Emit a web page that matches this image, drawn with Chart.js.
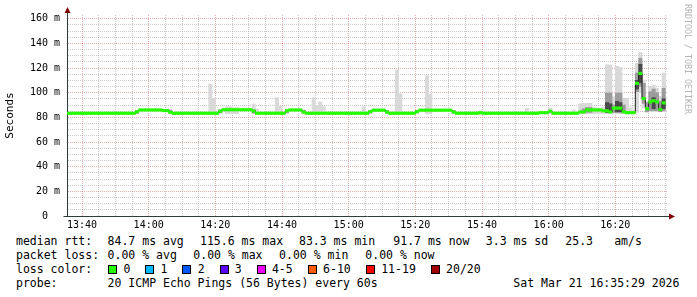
<!DOCTYPE html>
<html>
<head>
<meta charset="utf-8">
<script src="https://cdn.jsdelivr.net/npm/chart.js@4.4.1/dist/chart.umd.min.js"></script>
<style>
  html, body { margin: 0; padding: 0; background: #fff; }
  #wrap { position: relative; width: 697px; height: 297px; overflow: hidden; background: #fff;
          font-family: "DejaVu Sans Mono", monospace; color: #000; }
  #plot { position: absolute; left: 0; top: 0; }
  .t { position: absolute; font-size: 11.5px; line-height: 14px; white-space: pre; }
  .box { position: absolute; top: 265px; width: 7px; height: 7px; border: 1px solid #000; }
  #brand { position: absolute; left: 683px; top: 4px; font-size: 8.3px; line-height: 10px;
           color: #b4b4b4; writing-mode: vertical-rl; white-space: pre; }
</style>
</head>
<body>
<div id="wrap">
  <canvas id="plot" width="697" height="232"></canvas>
  <div id="brand">RRDTOOL / TOBI OETIKER</div>

  <div class="t" style="left:16px;top:234px">median rtt:</div>
  <div class="t" style="left:107.6px;top:234px">84.7 ms avg</div>
  <div class="t" style="left:200px;top:234px">115.6 ms max</div>
  <div class="t" style="left:299px;top:234px">83.3 ms min</div>
  <div class="t" style="left:393.3px;top:234px">91.7 ms now</div>
  <div class="t" style="left:485.8px;top:234px">3.3 ms sd</div>
  <div class="t" style="left:565.3px;top:234px">25.3</div>
  <div class="t" style="left:614.2px;top:234px">am/s</div>

  <div class="t" style="left:16px;top:248px">packet loss:</div>
  <div class="t" style="left:107.6px;top:248px">0.00 % avg</div>
  <div class="t" style="left:193.3px;top:248px">0.00 % max</div>
  <div class="t" style="left:279.1px;top:248px">0.00 % min</div>
  <div class="t" style="left:365.3px;top:248px">0.00 % now</div>

  <div class="t" style="left:16px;top:262px">loss color:</div>
  <div class="box" style="left:108px;background:#26ff00"></div>
  <div class="t" style="left:123.6px;top:262px">0</div>
  <div class="box" style="left:145.3px;background:#00b8ff"></div>
  <div class="t" style="left:160.6px;top:262px">1</div>
  <div class="box" style="left:182.4px;background:#0059ff"></div>
  <div class="t" style="left:197.7px;top:262px">2</div>
  <div class="box" style="left:219.5px;background:#5e00ff"></div>
  <div class="t" style="left:234.8px;top:262px">3</div>
  <div class="box" style="left:256.6px;background:#ee00ff"></div>
  <div class="t" style="left:271.9px;top:262px">4-5</div>
  <div class="box" style="left:307.8px;background:#ff5e00"></div>
  <div class="t" style="left:323.1px;top:262px">6-10</div>
  <div class="box" style="left:365.9px;background:#ff0000"></div>
  <div class="t" style="left:381.2px;top:262px">11-19</div>
  <div class="box" style="left:430.8px;background:#a00000"></div>
  <div class="t" style="left:446.1px;top:262px">20/20</div>

  <div class="t" style="left:16px;top:276px">probe:</div>
  <div class="t" style="left:107.6px;top:276px">20 ICMP Echo Pings (56 Bytes) every 60s</div>
  <div class="t" style="left:513.3px;top:276px">Sat Mar 21 16:35:29 2026</div>
</div>

<script>
// minutes since 13:35, one bin per minute (bin j spans minute j .. j+1)
const median = [
  83.3, 83.3, 83.3, 83.3, 83.3, 83.3, 83.3, 83.3, 83.3, 83.3,
  83.3, 83.3, 83.3, 83.3, 83.3, 83.3, 83.3, 83.3, 83.3, 83.3,
  83.3, 84.6, 86.0, 86.0, 86.0, 86.0, 86.0, 86.0, 86.0, 85.5,
  85.5, 84.2, 83.3, 83.3, 83.3, 83.3, 83.3, 83.3, 83.3, 83.3,
  83.3, 83.3, 83.3, 83.3, 83.3, 83.3, 85.0, 86.2, 86.2, 86.2,
  86.2, 86.2, 86.2, 86.2, 86.2, 86.2, 85.2, 83.3, 83.3, 83.3,
  83.3, 83.3, 83.3, 83.3, 83.3, 83.3, 85.4, 86.0, 86.0, 86.0,
  86.0, 84.3, 83.3, 83.3, 83.3, 83.3, 83.3, 83.3, 83.3, 83.3,
  83.3, 83.3, 83.3, 83.3, 83.3, 83.3, 83.3, 83.3, 83.3, 83.3,
  83.3, 84.6, 85.8, 85.8, 85.8, 85.8, 84.3, 83.3, 83.3, 83.3,
  83.3, 83.3, 83.3, 83.3, 83.3, 84.6, 85.8, 85.8, 85.8, 85.8,
  85.8, 85.8, 85.8, 85.8, 85.8, 85.8, 84.3, 83.3, 83.3, 83.3,
  83.3, 83.3, 83.3, 83.3, 83.8, 83.3, 83.3, 83.3, 83.3, 83.3,
  83.3, 83.3, 83.3, 83.3, 83.3, 83.3, 83.3, 83.3, 83.3, 83.3,
  83.3, 83.3, 83.8, 83.8, 83.8, 85.0, 83.3, 83.3, 83.3, 83.3,
  83.3, 83.3, 83.3, 83.3, 84.4, 84.4, 86.0, 86.0, 86.0, 86.0,
  86.0, 85.3, 85.3, 84.4, 87.5, 87.5, 87.5, 84.6, 83.8, 83.8,
  83.8, 107.6, 115.6, 95.3, 87.0, 92.5, 93.5, 92.5, 86.4, 91.7,
  null
];

// smoke: spread of the 20 pings per minute (outer = all pings)
const outerMinute = [43, 44, 48, 49, 50, 51, 56, 57, 63, 64, 74, 75, 76, 77, 89, 99, 100, 108, 109, 124,
  138, 145, 152, 154, 155, 156, 157, 158, 159, 160, 161, 162, 163, 164, 165, 166, 167, 168, 169, 170,
  171, 172, 173, 174, 175, 176, 177, 178, 179];
const outerLow = [83, 83, 83, 83, 83, 83, 83, 83, 83, 83, 83, 83, 83, 83, 83, 83, 83, 83, 83, 83,
  83, 83, 83, 83, 83, 83, 83, 83, 83, 83, 83, 83, 83, 83, 83, 83, 83, 83, 83, 83,
  84, 100, 88, 84, 84.6, 84.6, 84.6, 84.6, 84.6];
const outerHigh = [107, 95.5, 88.6, 88.6, 87.8, 87.8, 90.8, 86.5, 96, 89.2, 96, 89.5, 92.5, 88.6, 88.6, 118.4, 99.2, 113.8, 98.7, 85.3,
  87.3, 87.3, 86, 91, 91.4, 91.4, 91.4, 88, 87.6, 87.6, 88, 122.7, 122.5, 96.8, 121.4, 120.5, 95.7, 95.5, 87.6, 86,
  123.8, 132.7, 110.3, 93, 104.9, 106.2, 103.6, 97, 116];

const midMinute = [21, 31, 46, 56, 66, 71, 91, 96, 105, 116, 155, 156, 157, 162, 163, 164, 165, 166, 167,
  171, 172, 173, 174, 175, 176, 177, 178, 179];
const midLow = [83.2, 83.4, 83.5, 83.4, 83.5, 83.3, 83.5, 83.3, 83.5, 83.3, 83.6, 84, 84, 84, 84, 84, 84, 84, 83.5,
  100.8, 104.9, 91.4, 84.6, 85.5, 85.5, 85.5, 84.6, 85.5];
const midHigh = [85.6, 86, 86.2, 86, 86, 85.8, 85.8, 85.6, 85.8, 85.6, 87, 88, 88, 99.8, 99.8, 90, 99.8, 99.8, 90,
  116, 127.9, 107.6, 92, 100.8, 103, 100, 93, 103.6];

const coreMinute = [162, 163, 165, 166, 171, 172, 176, 179];
const coreLow = [84, 84, 84.5, 84.5, 103, 108, 87, 87];
const coreHigh = [92, 91, 93, 92, 110, 123, 96, 95];

const yTicks = [0, 5, 10, 15, 20, 25, 30, 35, 40, 45, 50, 55, 60, 65, 70, 75, 80,
  85, 90, 95, 100, 105, 110, 115, 120, 125, 130, 135, 140, 145, 150, 155, 160];
const xTicks = [5, 10, 15, 20, 25, 30, 35, 40, 45, 50, 55, 60, 65, 70, 75, 80, 85, 90,
  95, 100, 105, 110, 115, 120, 125, 130, 135, 140, 145, 150, 155, 160, 165, 170, 175, 180];
const xLabels = { 5: '13:40', 25: '14:00', 45: '14:20', 65: '14:40', 85: '15:00',
  105: '15:20', 125: '15:40', 145: '16:00', 165: '16:20' };

const lossGreen = '#26ff00';
const bandHalf = 1.0;
const axisColor = '#2c3d3a';
const minorGrid = 'rgba(150,150,150,0.5)';
const majorGrid = 'rgba(200,70,70,0.42)';

function smokeSet(mins, lo, hi, color, order) {
  return {
    type: 'bar',
    data: mins.map((m, k) => ({ x: m + 0.5, y: [lo[k], hi[k]] })),
    backgroundColor: color,
    borderWidth: 0,
    grouped: false,
    barPercentage: 1,
    categoryPercentage: 1,
    order: order,
  };
}

const axisArrows = {
  id: 'axisArrows',
  afterDraw(chart) {
    const { ctx, chartArea: a } = chart;
    const x0 = Math.round(a.left) + 0.5;
    const y0 = Math.round(a.bottom) + 0.5;
    ctx.save();
    ctx.strokeStyle = axisColor;
    ctx.lineWidth = 1;
    ctx.beginPath();
    ctx.moveTo(x0, a.top);
    ctx.lineTo(x0, a.top - 3);
    ctx.moveTo(x0 - 4, y0);
    ctx.lineTo(x0, y0);
    ctx.moveTo(a.right, y0);
    ctx.lineTo(a.right + 2, y0);
    ctx.stroke();
    ctx.fillStyle = '#7f0000';
    ctx.beginPath();
    ctx.moveTo(x0, a.top - 8);
    ctx.lineTo(x0 - 3, a.top - 2);
    ctx.lineTo(x0 + 3, a.top - 2);
    ctx.closePath();
    ctx.fill();
    ctx.beginPath();
    ctx.moveTo(a.right + 8, y0);
    ctx.lineTo(a.right + 2, y0 - 3);
    ctx.lineTo(a.right + 2, y0 + 3);
    ctx.closePath();
    ctx.fill();
    ctx.restore();
  },
};

const monoFont = '"DejaVu Sans Mono", monospace';

new Chart(document.getElementById('plot'), {
  type: 'bar',
  data: {
    datasets: [
      smokeSet(outerMinute, outerLow, outerHigh, '#d9d9d9', 5),
      smokeSet(midMinute, midLow, midHigh, '#9c9c9c', 4),
      smokeSet(coreMinute, coreLow, coreHigh, '#4a4a4a', 3),
      {
        type: 'line',
        data: median.map((m, j) => ({ x: j + 0.5, y: m })),
        borderColor: '#202020',
        borderWidth: 1,
        pointRadius: 0,
        stepped: 'middle',
        spanGaps: false,
        order: 2,
      },
      {
        type: 'bar',
        data: median.map((m, j) => ({ x: j + 0.5, y: m === null ? null : [m - bandHalf, m + bandHalf] })),
        backgroundColor: lossGreen,
        borderWidth: 0,
        grouped: false,
        barPercentage: 1,
        categoryPercentage: 1,
        order: 1,
      },
    ],
  },
  options: {
    responsive: false,
    animation: false,
    devicePixelRatio: 1,
    layout: { padding: { top: 15, right: 30, bottom: 0, left: 0 } },
    plugins: { legend: { display: false }, tooltip: { enabled: false } },
    scales: {
      x: {
        type: 'linear',
        min: 0.5,
        max: 180.5,
        offset: false,
        afterFit: (scale) => { scale.height = 16; },
        afterBuildTicks: (scale) => { scale.ticks = xTicks.map((v) => ({ value: v })); },
        ticks: {
          autoSkip: false,
          maxRotation: 0,
          padding: 3,
          color: '#000',
          font: { family: monoFont, size: 10 },
          callback: (v) => xLabels[v] || '',
        },
        grid: {
          offset: false,
          drawTicks: false,
          lineWidth: 1,
          color: (ctx) => (ctx.tick && (ctx.tick.value - 5) % 20 === 0 ? majorGrid : minorGrid),
        },
        border: { display: true, color: axisColor, dash: [1, 1] },
      },
      y: {
        min: 0,
        max: 163,
        afterFit: (scale) => { scale.width = 67; },
        afterBuildTicks: (scale) => { scale.ticks = yTicks.map((v) => ({ value: v })); },
        ticks: {
          autoSkip: false,
          padding: 7,
          color: '#000',
          font: { family: monoFont, size: 10 },
          callback: (v) => (v % 20 === 0 ? (v === 0 ? '0  ' : v + ' m') : ''),
        },
        grid: {
          drawTicks: false,
          lineWidth: 1,
          color: (ctx) => (ctx.tick && ctx.tick.value % 20 === 0 ? majorGrid : minorGrid),
        },
        border: { display: true, color: axisColor, dash: [1, 1] },
        title: {
          display: true,
          text: 'Seconds',
          color: '#000',
          font: { family: monoFont, size: 11 },
          padding: { top: 4, bottom: 0 },
        },
      },
    },
  },
  plugins: [axisArrows],
});
</script>
</body>
</html>
